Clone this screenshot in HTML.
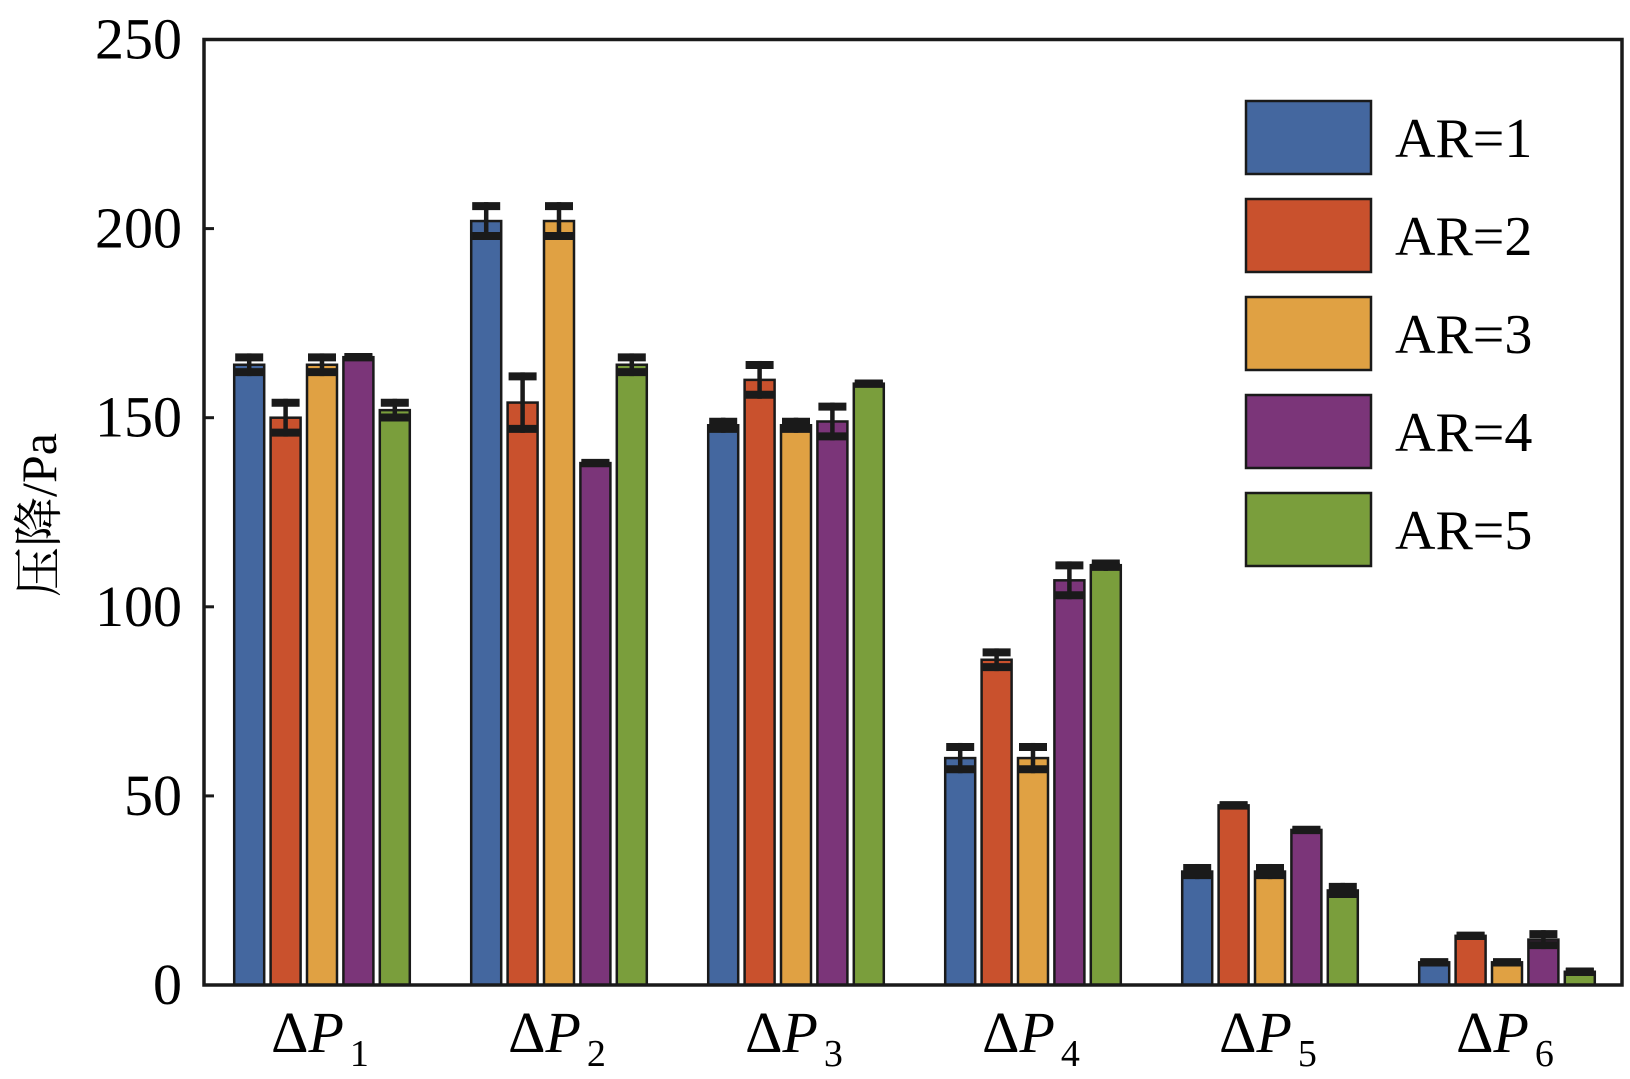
<!DOCTYPE html>
<html><head><meta charset="utf-8"><style>body{margin:0;background:#fff}svg{display:block}svg text{font-family:"Liberation Serif","Noto Serif CJK SC",serif}</style></head>
<body>
<svg id="c" width="1630" height="1079" xmlns="http://www.w3.org/2000/svg"></svg>
<script>
const categories=["1","2","3","4","5","6"];
const seriesNames=["AR=1","AR=2","AR=3","AR=4","AR=5"];
const colors=["#44679f","#c9512d","#e0a143","#7b3579","#7a9e3c"];
const ar1=[164,202,148,60,30,6];
const ar2=[150,154,160,86,47.5,13];
const ar3=[164,202,148,60,30,6];
const ar4=[166,138,149,107,41,12];
const ar5=[152,164,159,111,25,3.5];
const err1=[3,5,2,4,2,1];
const err2=[5,8,5,3,1,1];
const err3=[3,5,2,4,2,1];
const err4=[1,1,5,5,1,2.5];
const err5=[3,3,1,1.5,2,1];
const yTicks=[0,50,100,150,200,250];
const series=[ar1,ar2,ar3,ar4,ar5], errs=[err1,err2,err3,err4,err5];
const svg=document.getElementById('c');const NS="http://www.w3.org/2000/svg";
const L=204,T=39.5,R=1622,B=985;
const y=v=>B-(v/250)*(B-T);
const gx=i=>322+i*237;
const bx=(i,j)=>gx(i)+(j-2)*36.4;
function mk(t,a,p){const e=document.createElementNS(NS,t);for(const k in a)e.setAttribute(k,a[k]);(p||svg).appendChild(e);return e;}
series.forEach((s,j)=>s.forEach((v,i)=>{
 const r=mk('rect',{x:bx(i,j)-15,y:y(v),width:30,height:B-y(v),fill:colors[j],stroke:'#1a1a1a','stroke-width':2.5});
 
 
 const e=errs[j][i],g=mk('g',{stroke:'#1a1a1a',fill:'none'});
 
 
 mk('line',{x1:bx(i,j),x2:bx(i,j),y1:y(v+e),y2:y(v-e),'stroke-width':4.5},g);
 mk('line',{x1:bx(i,j)-14,x2:bx(i,j)+14,y1:y(v+e)+4,y2:y(v+e)+4,'stroke-width':8},g);
 mk('line',{x1:bx(i,j)-14,x2:bx(i,j)+14,y1:y(v-e)-4,y2:y(v-e)-4,'stroke-width':8},g);
}));
const f=mk('rect',{x:L,y:T,width:R-L,height:B-T,fill:'none',stroke:'#1a1a1a','stroke-width':3.5});

yTicks.forEach(t=>{
 mk('line',{x1:L,x2:L+10,y1:y(t),y2:y(t),stroke:'#1a1a1a','stroke-width':3});
 const tx=mk('text',{x:182,y:y(t)+19,'text-anchor':'end','font-size':58});tx.textContent=t;
 
});
categories.forEach((c,i)=>{
 const tx=mk('text',{x:gx(i)-2,y:1052,'text-anchor':'middle','font-size':58});
 
 tx.innerHTML='Δ<tspan font-style="italic">P</tspan><tspan font-size="38" dy="14" dx="6">'+c+'</tspan>';
});
const yt=mk('text',{x:0,y:0,transform:'translate(56,515) rotate(-90)','text-anchor':'middle','font-size':50});
yt.textContent='压降/Pa';
seriesNames.forEach((n,j)=>{
 const g=mk('g',{});
 mk('rect',{x:1246,y:101+j*98,width:125,height:73,fill:colors[j],stroke:'#1a1a1a','stroke-width':2.5},g);
 const t=mk('text',{x:1395,y:157+j*98,'font-size':56},g);t.textContent=n;
});
</script>
</body></html>
